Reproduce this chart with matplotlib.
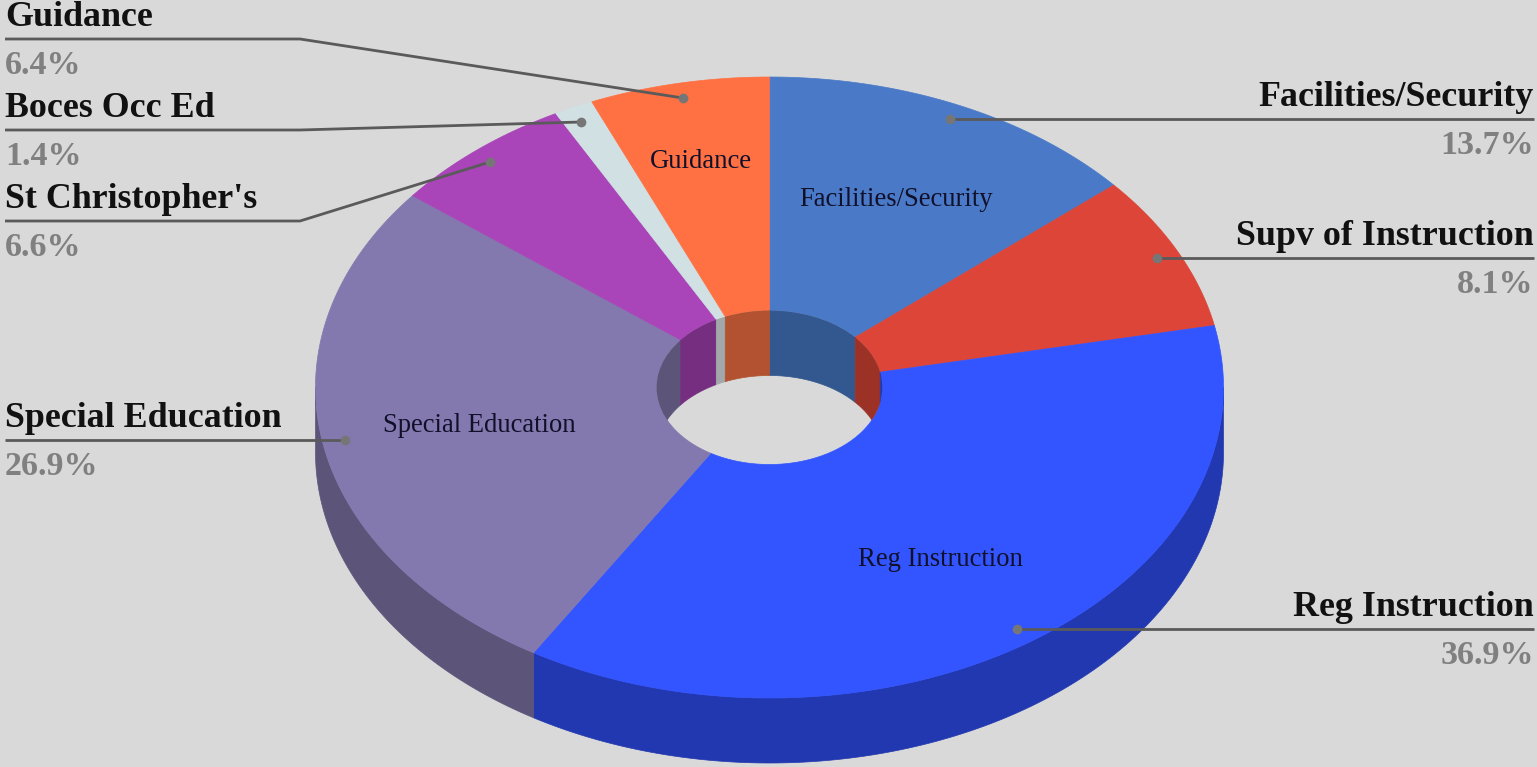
import numpy as np
import matplotlib
matplotlib.use("Agg")
import matplotlib.pyplot as plt
from matplotlib.patches import Ellipse

# budget shares, clockwise from 12 o'clock
categorias = ["Facilities/Security", "Supv of Instruction", "Reg Instruction",
              "Special Education", "St Christopher's", "Boces Occ Ed", "Guidance"]
porcentajes = [13.7, 8.1, 36.9, 26.9, 6.6, 1.4, 6.4]
colores = ["#4a7ac7", "#dc4537", "#3355ff", "#8479ae", "#a945b9", "#d0e0e3", "#ff7043"]
colores_pared = ["#33578f", "#9c3126", "#2138b0", "#5d5479", "#762f80", "#a2a8a9", "#b25230"]

FONDO = "#d9d9d9"
CX, CY = 769.5, 387.5
RX, RY = 454, 310.5
RX_IN, RY_IN = 113, 77
ALTO = 65
SERIF = "Liberation Serif"

# dot on the slice, elbow of the leader, end of the leader, text side
guias = {
    "Facilities/Security": ((950, 119), None, 1534, "right"),
    "Supv of Instruction": ((1157, 258), None, 1534, "right"),
    "Reg Instruction": ((1017, 629), None, 1534, "right"),
    "Special Education": ((345, 440), None, 5, "left"),
    "St Christopher's": ((490, 162), (300, 221), 5, "left"),
    "Boces Occ Ed": ((581, 122), (300, 130), 5, "left"),
    "Guidance": ((683, 98), (300, 39), 5, "left"),
}
# label inside the slice, centre position
etiquetas = {
    "Facilities/Security": (896, 200),
    "Reg Instruction": (940, 559),
    "Special Education": (479, 425),
    "Guidance": (701, 161),
}


def Arco(a1, a2, rx, ry, dy=0):
    # angles in degrees, clockwise from the top of the ellipse
    t = np.radians(np.linspace(a1, a2, 200))
    return CX + rx * np.sin(t), CY + dy - ry * np.cos(t)


fig = plt.figure(figsize=(15.37, 7.67), dpi=100, facecolor=FONDO)
ax = fig.add_axes([0, 0, 1, 1])
ax.set_xlim(0, 1537)
ax.set_ylim(767, 0)
ax.axis("off")

fin = np.cumsum(porcentajes) * 3.6
inicio = fin - np.array(porcentajes) * 3.6

# outer wall, only the front half is visible
for a1, a2, c in zip(inicio, fin, colores_pared):
    a, b = max(a1, 90), min(a2, 270)
    if a < b:
        x1, y1 = Arco(a, b, RX, RY)
        x2, y2 = Arco(b, a, RX, RY, ALTO)
        ax.fill(np.r_[x1, x2], np.r_[y1, y2], color=c, lw=0.5, zorder=1)

# top face
for a1, a2, c in zip(inicio, fin, colores):
    x1, y1 = Arco(a1, a2, RX, RY)
    x2, y2 = Arco(a2, a1, RX_IN, RY_IN)
    ax.fill(np.r_[x1, x2], np.r_[y1, y2], color=c, lw=0.5, zorder=2)

# inner wall seen through the hole, back half only
hueco = Ellipse((CX, CY), 2 * RX_IN, 2 * RY_IN, transform=ax.transData)
for a1, a2, c in zip(inicio, fin, colores_pared):
    for desde, hasta in ((a1, min(a2, 90)), (max(a1, 270), a2)):
        if desde < hasta:
            x1, y1 = Arco(desde, hasta, RX_IN, RY_IN)
            x2, y2 = Arco(hasta, desde, RX_IN, RY_IN, ALTO)
            pared = ax.fill(np.r_[x1, x2], np.r_[y1, y2], color=c, lw=0.5, zorder=3)[0]
            pared.set_clip_path(hueco)

for nombre, (x, y) in etiquetas.items():
    ax.text(x, y, nombre, family=SERIF, fontsize=19.2, color="#10102a",
            ha="center", va="center", zorder=5)

for nombre, valor in zip(categorias, porcentajes):
    punto, codo, borde, lado = guias[nombre]
    y_linea = codo[1] if codo else punto[1]
    xs = [borde] + ([codo[0]] if codo else []) + [punto[0]]
    ys = [y_linea] + ([codo[1]] if codo else []) + [punto[1]]
    ax.plot(xs, ys, color="#5a5a5a", lw=2, solid_capstyle="butt", zorder=6)
    ax.plot(*punto, "o", ms=7, color="#767676", mew=0, zorder=7)
    ax.text(borde, y_linea - 13, nombre, family=SERIF, fontweight="bold", fontsize=25.8,
            color="#111111", ha=lado, va="baseline", zorder=8)
    ax.text(borde, y_linea + 35, f"{valor}%", family=SERIF, fontweight="bold", fontsize=24.5,
            color="#808080", ha=lado, va="baseline", zorder=8)

fig.savefig("out.png", dpi=100, facecolor=FONDO)
